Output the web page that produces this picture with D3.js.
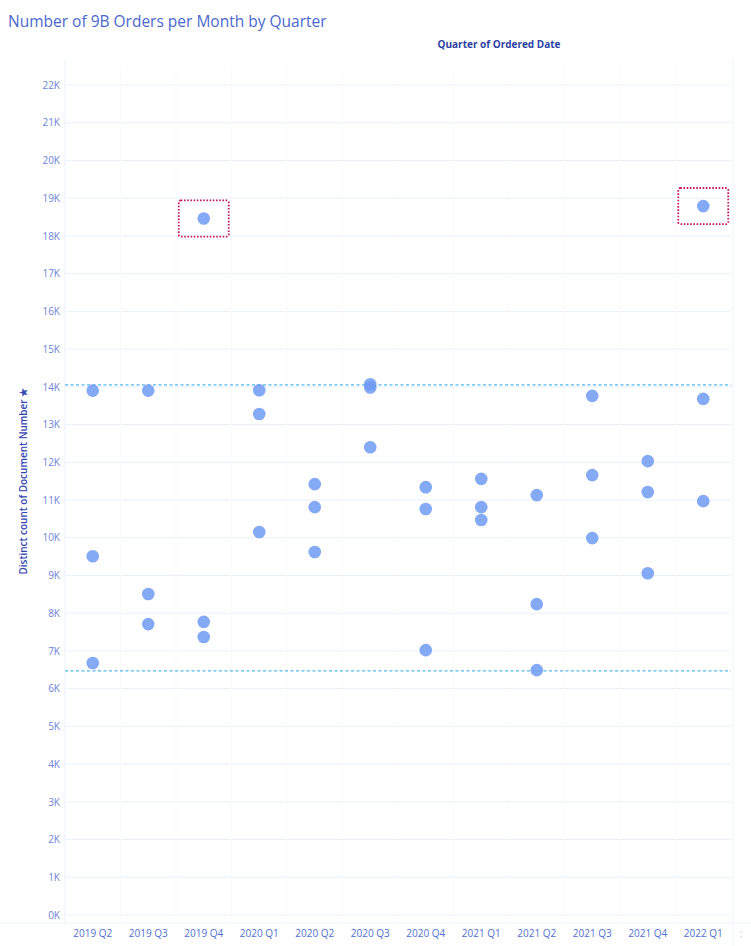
<!DOCTYPE html>
<html><head><meta charset="utf-8">
<script src="https://cdn.jsdelivr.net/npm/d3@7"></script>
<style>body{margin:0;background:#fff;}svg{display:block;}</style>
</head><body>
<script>
const quarters = ["2019 Q2","2019 Q3","2019 Q4","2020 Q1","2020 Q2","2020 Q3","2020 Q4","2021 Q1","2021 Q2","2021 Q3","2021 Q4","2022 Q1"];
const month1 = [13900, 13900, 18460, 13910, 11420, 14070, 11340, 11560, 11130, 13760, 12030, 18790];
const month2 = [9510, 8510, 7770, 13280, 10810, 13980, 10760, 10810, 8240, 11660, 11210, 13680];
const month3 = [6680, 7710, 7370, 10150, 9620, 12400, 7020, 10470, 6490, 9990, 9060, 10970];
const refLines = [14050, 6470];
const highlighted = [{q:"2019 Q4", v:18460}, {q:"2022 Q1", v:18790}];
const yTicks = d3.range(0, 23000, 1000);

const W = 751, H = 946;
const m = {left:65, right:20, top:85, bottom:31};
const svg = d3.select("body").append("svg").attr("width", W).attr("height", H);

const x = d3.scaleBand().domain(quarters).range([m.left, m.left + 55.5*quarters.length]).padding(0);
const y = d3.scaleLinear().domain([0, 22000]).range([H - m.bottom, m.top]);

// title
svg.append("text").attr("x", 8).attr("y", 27).text("Number of 9B Orders per Month by Quarter")
  .attr("font-family","Open Sans").attr("font-size", 15.5).attr("fill","#4a68cf");
svg.append("text").attr("x", 499).attr("y", 48).attr("text-anchor","middle").text("Quarter of Ordered Date")
  .attr("font-family","Open Sans").attr("font-weight","bold").attr("font-size", 10).attr("fill","#2d3fa3");

// gridlines
svg.append("g").selectAll("line").data(yTicks).join("line")
  .attr("x1", m.left).attr("x2", x.range()[1]).attr("y1", d=>y(d)).attr("y2", d=>y(d))
  .attr("stroke","#e6f1fb").attr("stroke-width",1);
// column separators
svg.append("g").selectAll("line").data(quarters.slice(1)).join("line")
  .attr("x1", d=>x(d)).attr("x2", d=>x(d)).attr("y1", y(22500)).attr("y2", y(0)+8)
  .attr("stroke","#f8fbfe").attr("stroke-width",1);
svg.append("line").attr("x1", x.range()[1]+2).attr("x2", x.range()[1]+2).attr("y1", 60).attr("y2", H)
  .attr("stroke","#edf5fc");
svg.append("line").attr("x1", m.left).attr("x2", m.left).attr("y1", 60).attr("y2", y(0)+10)
  .attr("stroke","#e8f2fb");
svg.append("line").attr("x1", 0).attr("x2", W).attr("y1", y(0)+8).attr("y2", y(0)+8)
  .attr("stroke","#eaf3fb");

// y axis
const yAxis = d3.axisLeft(y).tickValues(yTicks).tickFormat(d => (d/1000) + "K").tickSize(0).tickPadding(5);
const ga = svg.append("g").attr("transform", `translate(${m.left},0)`).call(yAxis);
ga.select(".domain").remove();
ga.selectAll("text").attr("font-family","Open Sans").attr("font-size", 10).attr("fill","#6d84d8");

svg.append("text").attr("transform", `translate(27,${y(11500)}) rotate(-90)`).attr("text-anchor","middle")
  .text("Distinct count of Document Number \u2605")
  .attr("font-family","Open Sans").attr("font-weight","600").attr("font-size", 10).attr("fill","#3346b0");

// x axis
const xAxis = d3.axisBottom(x).tickSize(0).tickPadding(0);
const gx = svg.append("g").attr("transform", `translate(0,${H-13})`).call(xAxis);
gx.select(".domain").remove();
gx.selectAll("text").attr("font-family","Open Sans").attr("font-size", 10).attr("fill","#4f6fd3").attr("dy","0.35em");
svg.append("text").attr("x", 740).attr("y", H-9).text(":").attr("font-family","Open Sans").attr("font-size",10).attr("fill","#b9c7ee");

// reference lines
svg.append("g").selectAll("line").data(refLines).join("line")
  .attr("x1", m.left).attr("x2", x.range()[1]).attr("y1", d=>y(d)).attr("y2", d=>y(d))
  .attr("stroke","#55b8ec").attr("stroke-width",1.3).attr("stroke-dasharray","3,2.5");

// points
const pts = [];
quarters.forEach((q,i) => { [month1[i], month2[i], month3[i]].forEach(v => pts.push({q, v})); });
svg.append("g").selectAll("circle").data(pts).join("circle")
  .attr("cx", d => x(d.q) + x.bandwidth()/2).attr("cy", d => y(d.v)).attr("r", 6.3)
  .attr("fill","#6f9af3").attr("fill-opacity",0.85);

// highlight boxes
svg.append("g").selectAll("rect").data(highlighted).join("rect")
  .attr("x", d => x(d.q) + x.bandwidth()/2 - 25).attr("width", 50)
  .attr("y", d => y(d.v + 480)).attr("height", d => y(d.v - 480) - y(d.v + 480))
  .attr("rx", 2).attr("fill","none").attr("stroke","#c4195f").attr("stroke-width",1.8).attr("stroke-dasharray","1.6,1.6");
</script>
</body></html>
